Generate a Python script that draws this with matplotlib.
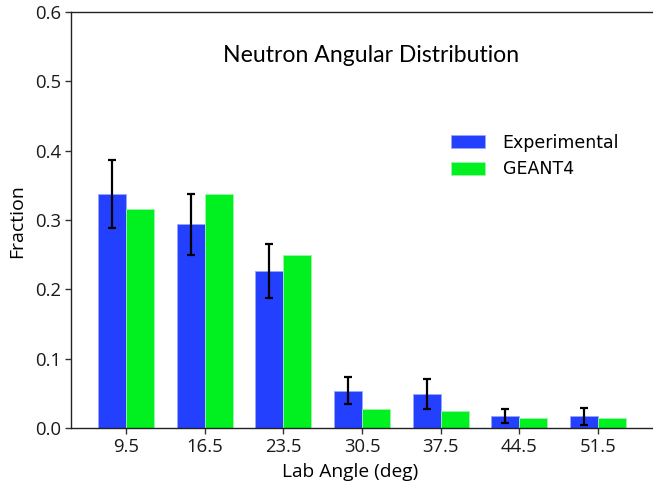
import matplotlib
matplotlib.use("Agg")
import matplotlib.pyplot as plt
import numpy as np

angles = [9.5, 16.5, 23.5, 30.5, 37.5, 44.5, 51.5]
tick_labels = ["9.5", "16.5", "23.5", "30.5", "37.5", "44.5", "51.5"]
experimental = [0.337, 0.294, 0.226, 0.054, 0.049, 0.017, 0.017]
exp_err = [0.049, 0.044, 0.039, 0.020, 0.021, 0.010, 0.012]
geant4 = [0.316, 0.338, 0.249, 0.028, 0.025, 0.014, 0.015]
y_ticks = [0.0, 0.1, 0.2, 0.3, 0.4, 0.5, 0.6]

W, H = 653, 486
fig = plt.figure(figsize=(W / 100, H / 100), dpi=100)
ax = fig.add_axes([71 / W, (H - 428) / H, (W - 71) / W + 0.01, 416 / H])

x = np.array(angles)
w = 2.5
ax.bar(x - w / 2, experimental, w, color="#2340ff", edgecolor="#9aa6ff",
       linewidth=0.6, label="Experimental", zorder=2)
ax.errorbar(x - w / 2, experimental, yerr=exp_err, fmt="none", ecolor="black",
            elinewidth=1.6, capsize=2.8, capthick=1.6, zorder=3)
ax.bar(x + w / 2, geant4, w, color="#00f020", edgecolor="#9af5a8",
       linewidth=0.6, label="GEANT4", zorder=2)

ax.set_xlim(4.61, 56.39 + 0.01 * W / 11.24)
ax.set_ylim(0, 0.6)
ax.set_xticks(angles)
ax.set_xticklabels(tick_labels)
ax.set_yticks(y_ticks)
ax.set_yticklabels([f"{v:.1f}" for v in y_ticks])
for lab in ax.get_xticklabels() + ax.get_yticklabels():
    lab.set_fontfamily("Open Sans")
    lab.set_fontsize(13.3)
    lab.set_color("#1a1a1a")
ax.tick_params(axis="both", length=4, width=1, color="#333333", pad=3)
ax.spines["right"].set_visible(False)
for s in ["left", "bottom", "top"]:
    ax.spines[s].set_color("#222222")
    ax.spines[s].set_linewidth(1)

ax.set_xlabel("Lab Angle (deg)", fontfamily="Open Sans", fontsize=13.8)
ax.set_ylabel("Fraction", fontfamily="Open Sans", fontsize=14)
ax.xaxis.set_label_coords((347 - 71) / (W - 71), -(472 - 428) / 416)
ax.yaxis.set_label_coords(-(71 - 17.5) / (W - 71), (428 - 221) / 416)
ax.xaxis.label.set_va("center")
ax.yaxis.label.set_va("center")

ax.text(371 / W, (H - 55) / H, "Neutron Angular Distribution", transform=fig.transFigure,
        ha="center", va="center", fontfamily="Lato", fontsize=16.6)

leg = ax.legend(loc="upper left", bbox_to_anchor=(435 / W, (H - 118) / H),
                bbox_transform=fig.transFigure, frameon=False,
                prop={"family": "DejaVu Sans", "size": 12.5},
                handlelength=2.0, handleheight=0.8, handletextpad=1.0, labelspacing=0.5)

fig.savefig("out.png", dpi=100)
